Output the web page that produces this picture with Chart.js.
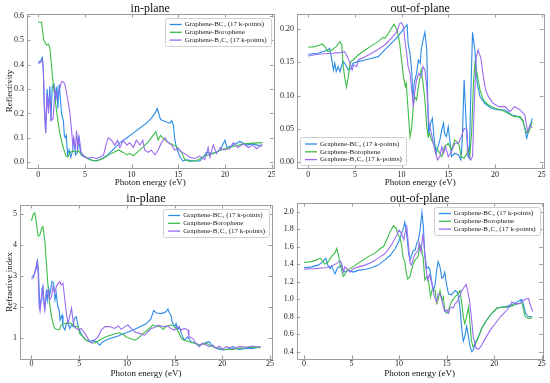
<!DOCTYPE html>
<html>
<head>
<meta charset="utf-8">
<script src="https://cdn.jsdelivr.net/npm/chart.js@4.4.1/dist/chart.umd.min.js"></script>
<style>
  body { margin: 0; background: #fff; }
  #wrap { position: relative; width: 550px; height: 383px; }
  canvas { position: absolute; }
</style>
</head>
<body>
<div id="wrap">
  <canvas id="rIn" width="275" height="190" style="left:0;top:0"></canvas>
  <canvas id="rOut" width="275" height="190" style="left:275px;top:0"></canvas>
  <canvas id="nIn" width="275" height="193" style="left:0;top:190px"></canvas>
  <canvas id="nOut" width="275" height="193" style="left:275px;top:190px"></canvas>
</div>
<script>
var seriesLabels = ["Graphene-BC\u2083 (17 k-points)", "Graphene-Borophene", "Graphene-B\u2084C\u2083 (17 k-points)"];
var seriesColors = ["#2b8be8", "#3dbd48", "#9b6cf0"];
var xTicks = [0, 5, 10, 15, 20, 25];
var rInTicks = [0.0, 0.1, 0.2, 0.3, 0.4, 0.5, 0.6];
var rOutTicks = [0.00, 0.05, 0.10, 0.15, 0.20];
var nInTicks = [1, 2, 3, 4, 5];
var nOutTicks = [0.4, 0.6, 0.8, 1.0, 1.2, 1.4, 1.6, 1.8, 2.0];

// reflectivity, in-plane
var rInBcX = [0,0.25,0.45,0.55,0.65,0.8,0.95,1.1,1.25,1.36,
  1.5,1.7,1.8,2.0,2.1,2.25,2.4,2.5,2.7,2.8,
  2.9,3.0,3.15,3.3,3.5,3.7,3.8,4.0,4.2,4.3,
  4.5,4.6,5.0,5.4,5.9,6.6,7.3,8.0,8.75,9.5,
  10.2,10.9,11.6,12.1,12.5,12.75,12.9,13.1,13.4,13.75,
  14.1,14.3,14.5,14.6,14.8,15.2,15.5,15.9,16.6,17.3,
  17.7,18.0,18.75,19.5,20.0,20.2,20.9,21.6,22.3,23.0,
  23.5,24.0];
var rInBcY = [0.41,0.415,0.43,0.38,0.23,0.12,0.30,0.22,0.31,0.17,
  0.31,0.32,0.25,0.31,0.22,0.32,0.25,0.20,0.17,0.11,
  0.10,0.11,0.03,0.05,0.02,0.05,0.10,0.03,0.04,0.10,
  0.05,0.03,0.02,0.015,0.005,0.01,0.025,0.05,0.08,0.10,
  0.12,0.14,0.16,0.18,0.20,0.22,0.20,0.175,0.17,0.165,
  0.16,0.17,0.15,0.10,0.06,0.02,0.005,0.01,0.005,0.005,
  0.02,0.04,0.035,0.05,0.09,0.06,0.07,0.085,0.07,0.075,
  0.07,0.065];
var rInBoX = [0,0.35,0.6,0.9,1.1,1.25,1.6,2.0,2.3,2.7,
  3.0,3.2,3.4,3.7,4.0,4.3,4.5,5.0,5.5,6.25,
  7.0,7.7,8.6,9.1,9.5,9.8,10.2,10.7,11.25,11.8,
  12.3,12.6,12.85,13.1,13.6,14.1,14.8,15.4,15.7,16.25,
  17.0,17.7,18.75,19.8,20.9,22.0,23.0,24.0];
var rInBoY = [0.575,0.573,0.50,0.48,0.485,0.47,0.32,0.20,0.12,0.057,
  0.023,0.023,0.04,0.045,0.042,0.048,0.037,0.023,0.01,0.005,
  0.016,0.033,0.05,0.04,0.03,0.036,0.026,0.044,0.063,0.084,
  0.11,0.125,0.09,0.11,0.09,0.078,0.064,0.037,0.01,0.003,
  0.007,0.023,0.037,0.053,0.064,0.075,0.078,0.08];
var rInB4X = [0,0.25,0.45,0.55,0.65,0.8,0.95,1.1,1.25,1.4,
  1.6,1.8,2.0,2.1,2.3,2.5,2.7,2.85,3.0,3.2,
  3.4,3.6,3.7,3.8,4.0,4.1,4.25,4.4,4.6,4.8,
  5.2,5.7,6.25,6.6,7.0,7.25,7.5,7.85,8.2,8.5,
  8.75,9.1,9.5,9.8,10.2,10.5,10.9,11.2,11.4,11.8,
  12.1,12.5,12.85,13.2,13.6,13.9,14.3,14.6,15.0,15.4,
  15.7,16.25,16.8,17.3,17.85,18.2,18.4,18.75,19.1,19.5,
  19.8,20.5,20.9,21.4,22.0,22.5,23.0,23.4,24.0];
var rInB4Y = [0.405,0.41,0.42,0.37,0.25,0.12,0.28,0.20,0.28,0.17,
  0.18,0.30,0.26,0.29,0.30,0.33,0.33,0.32,0.29,0.25,
  0.20,0.12,0.07,0.10,0.05,0.13,0.06,0.10,0.04,0.03,
  0.015,0.02,0.015,0.02,0.03,0.07,0.10,0.09,0.07,0.09,
  0.06,0.09,0.07,0.08,0.06,0.09,0.07,0.09,0.05,0.04,
  0.05,0.03,0.05,0.08,0.10,0.08,0.07,0.05,0.055,0.04,
  0.035,0.02,0.015,0.025,0.01,0.06,0.02,0.07,0.035,0.06,
  0.05,0.055,0.08,0.06,0.075,0.06,0.07,0.055,0.075];

// reflectivity, out-of-plane
var rOutBcX = [0,1.07,2.1,2.3,2.5,2.7,2.85,3.0,3.2,3.4,
  3.6,3.75,3.9,4.3,4.6,4.8,5.35,6.1,6.8,7.5,
  8.2,8.9,9.6,10.0,10.4,10.6,10.7,10.9,11.1,11.2,
  11.35,11.6,11.8,12.0,12.1,12.3,12.5,12.7,12.8,12.9,
  13.1,13.3,13.5,13.7,13.9,14.1,14.3,14.5,14.6,14.8,
  15.0,15.2,15.35,15.7,16.1,16.35,16.5,16.7,16.9,17.1,
  17.25,17.4,17.6,17.85,18.1,18.4,18.9,19.6,20.4,21.1,
  21.8,22.5,23.0,23.4,23.75,24.0];
var rOutBcY = [0.162,0.1635,0.1685,0.171,0.156,0.1385,0.1485,0.136,0.1435,0.136,
  0.146,0.151,0.1485,0.1385,0.141,0.1485,0.151,0.1535,0.156,0.1585,
  0.1685,0.1785,0.1885,0.196,0.2035,0.206,0.1785,0.1635,0.1335,0.0935,
  0.1185,0.1335,0.1535,0.1485,0.1685,0.1835,0.195,0.1685,0.0935,0.0435,
  0.0585,0.066,0.0335,0.0135,0.0235,0.0335,0.0485,0.0585,0.0435,0.0385,
  0.0535,0.0285,0.0085,0.0135,0.011,0.0035,0.0335,0.1235,0.0635,0.0085,
  0.006,0.0935,0.195,0.1685,0.1185,0.0985,0.0885,0.081,0.0785,0.0785,
  0.071,0.0685,0.0635,0.036,0.0535,0.066];
var rOutBoX = [0,0.7,1.25,1.5,1.8,2.1,2.5,3.0,3.4,3.6,
  3.75,3.9,4.1,4.3,4.5,4.8,5.35,6.1,6.8,7.5,
  8.0,8.2,8.6,8.9,9.2,9.35,9.6,9.8,10.0,10.2,
  10.4,10.5,10.7,10.9,11.1,11.25,11.4,11.6,11.8,12.0,
  12.1,12.3,12.5,12.7,12.85,13.0,13.2,13.6,13.9,14.3,
  14.6,15.0,15.35,15.7,16.1,16.4,16.7,17.0,17.1,17.3,
  17.5,17.7,17.85,18.0,18.4,18.75,19.3,20.0,20.7,21.4,
  22.1,22.7,23.0,23.4,23.6,24.0];
var rOutBoY = [0.1725,0.1735,0.176,0.1775,0.1735,0.166,0.1685,0.1735,0.181,0.176,
  0.1435,0.1285,0.1125,0.1285,0.15,0.1535,0.161,0.1685,0.175,0.181,
  0.1875,0.186,0.1935,0.201,0.207,0.2035,0.1935,0.1785,0.1535,0.1285,
  0.1135,0.1185,0.0785,0.0385,0.0535,0.0835,0.0985,0.0935,0.1135,0.1285,
  0.1385,0.1185,0.0935,0.0535,0.0385,0.0435,0.0335,0.0235,0.0185,0.0085,
  0.0235,0.0285,0.0185,0.0335,0.0285,0.0085,0.006,0.0135,0.0235,0.0085,
  0.0435,0.1185,0.1485,0.1385,0.1085,0.0935,0.086,0.081,0.0785,0.0735,
  0.0685,0.0685,0.061,0.0435,0.045,0.061];
var rOutB4X = [0,1.07,2.5,3.4,3.9,4.2,4.5,4.7,4.9,5.2,
  5.35,6.1,6.8,7.5,8.2,8.9,9.5,9.8,10.0,10.2,
  10.35,10.5,10.7,10.9,11.1,11.25,11.4,11.6,11.85,12.1,
  12.3,12.5,12.7,12.85,13.0,13.2,13.4,13.65,13.85,14.1,
  14.3,14.5,14.7,15.0,15.35,15.7,16.1,16.4,16.7,17.0,
  17.1,17.4,17.6,17.8,18.0,18.2,18.5,18.75,19.0,19.3,
  19.8,20.4,21.1,21.6,22.1,22.7,23.2,23.5,23.75,24.0];
var rOutB4Y = [0.1595,0.162,0.1635,0.1645,0.166,0.1585,0.1485,0.1385,0.146,0.1435,
  0.1535,0.1585,0.1635,0.1695,0.176,0.186,0.196,0.2085,0.2095,0.2035,
  0.1835,0.1685,0.1435,0.1335,0.1085,0.0835,0.1035,0.1235,0.1335,0.1285,
  0.1435,0.1385,0.1135,0.0685,0.0535,0.0435,0.0285,0.0135,0.0035,0.0085,
  0.0235,0.0135,0.0235,0.0085,0.016,0.0285,0.0285,0.0385,0.051,0.0485,
  0.0135,0.0035,0.0085,0.0935,0.1585,0.1685,0.156,0.1285,0.1085,0.0985,
  0.0885,0.0835,0.0835,0.076,0.0835,0.0785,0.071,0.046,0.056,0.052];

// refractive index, in-plane
var nInBcX = [0,0.17,0.35,0.52,0.63,0.73,0.84,0.9,1.0,1.1,
  1.2,1.3,1.4,1.57,1.67,1.8,1.9,2.0,2.15,2.33,
  2.47,2.6,2.75,2.9,3.0,3.2,3.3,3.5,3.66,3.83,
  4.0,4.2,4.36,4.5,4.7,4.9,5.1,5.4,5.75,6.1,
  6.45,6.8,7.15,7.5,8.0,9.0,10.0,11.0,12.0,12.5,
  12.8,13.1,13.6,14.1,14.3,14.45,14.6,14.8,15.0,15.15,
  15.3,15.5,15.7,16.0,16.4,16.7,17.2,17.6,18.1,18.6,
  19.0,19.7,20.2,20.7,21.1,21.8,22.5,23.2,24.0];
var nInBcY = [2.96,3.0,3.1,3.35,3.5,3.2,2.23,1.96,2.23,2.6,
  2.65,2.23,1.96,2.55,2.23,2.6,2.38,2.55,2.82,2.76,
  2.23,2.44,2.01,1.9,1.57,1.73,1.36,1.25,1.46,1.52,
  1.3,1.41,1.36,1.63,1.68,1.36,1.19,1.03,0.92,0.87,
  0.92,0.87,0.76,0.87,0.95,1.05,1.17,1.3,1.45,1.6,
  1.88,1.8,1.78,1.84,1.93,1.8,1.73,1.46,1.36,1.46,
  1.25,1.36,1.14,0.92,1.03,0.87,0.82,0.76,0.82,0.87,
  0.71,0.62,0.6,0.65,0.71,0.62,0.65,0.65,0.71];
var nInBoX = [0,0.17,0.35,0.52,0.7,0.87,1.05,1.2,1.4,1.57,
  1.74,1.9,2.1,2.26,2.44,2.8,2.96,3.1,3.5,3.83,
  4.2,4.5,4.9,5.05,5.4,5.75,6.1,6.6,7.1,7.8,
  8.7,9.2,9.6,9.9,10.3,10.8,11.2,11.7,12.2,12.7,
  13.1,13.4,13.8,14.1,14.6,15.0,15.3,15.7,16.0,16.5,
  17.1,17.6,18.3,19.0,19.7,20.4,21.1,21.8,22.8,24.0];
var nInBoY = [4.79,4.98,5.05,4.7,4.29,4.32,4.53,4.6,4.16,3.4,
  2.65,2.1,1.7,1.46,1.3,1.25,1.27,1.41,1.46,1.48,
  1.46,1.36,1.36,1.14,1.03,0.92,0.87,0.82,0.92,1.03,
  1.12,1.16,1.11,1.03,0.98,0.92,0.98,1.14,1.25,1.41,
  1.36,1.38,1.27,1.36,1.41,1.36,1.25,0.98,0.92,0.87,
  0.82,0.76,0.82,0.71,0.65,0.62,0.62,0.65,0.69,0.68];
var nInB4X = [0,0.17,0.35,0.52,0.6,0.7,0.8,0.9,1.05,1.2,
  1.3,1.4,1.57,1.74,1.9,2.1,2.26,2.44,2.6,2.8,
  2.96,3.1,3.3,3.5,3.66,3.83,4.0,4.2,4.36,4.5,
  4.7,5.0,5.2,5.6,5.9,6.3,6.6,7.0,7.3,7.7,
  8.2,8.7,9.1,9.4,9.8,10.1,10.45,10.8,11.3,11.85,
  12.2,12.55,12.9,13.25,13.8,14.3,14.6,15.0,15.3,15.7,
  16.0,16.4,16.5,16.9,17.2,17.6,17.9,18.3,18.6,19.0,
  19.35,19.7,20.0,20.4,21.1,21.8,22.5,23.2,24.0];
var nInB4Y = [2.89,2.92,3.1,3.25,3.5,3.1,2.01,1.85,2.33,2.65,
  2.11,1.9,2.44,2.55,2.23,2.33,2.65,2.44,2.65,2.76,
  2.82,2.71,2.76,2.23,1.79,1.46,1.68,1.96,1.52,1.36,
  1.3,1.25,1.3,1.14,0.98,0.82,0.92,1.03,1.25,1.36,
  1.36,1.3,1.38,1.27,1.36,1.41,1.3,1.19,1.14,1.08,
  1.19,1.3,1.33,1.41,1.36,1.38,1.3,1.25,1.36,1.25,
  1.3,1.25,1.03,0.98,0.82,0.71,0.82,0.76,0.71,0.76,
  0.65,0.73,0.62,0.71,0.65,0.71,0.69,0.73,0.69];

// refractive index, out-of-plane
var nOutBcX = [0,0.8,1.5,2.0,2.3,2.5,2.74,2.9,3.1,3.26,
  3.44,3.6,3.8,3.96,4.13,4.3,4.67,5.2,5.7,6.4,
  7.1,7.8,8.5,9.05,9.6,9.96,10.25,10.5,10.6,10.8,
  11.0,11.15,11.3,11.5,11.7,11.85,12.0,12.2,12.4,12.55,
  12.7,12.9,13.1,13.25,13.4,13.6,13.8,13.95,14.1,14.3,
  14.5,14.65,14.8,15.0,15.2,15.5,15.9,16.15,16.4,16.6,
  16.75,16.9,17.1,17.3,17.45,17.65,17.8,18.0,18.35,18.7,
  19.2,19.75,20.3,21.0,21.7,22.4,22.9,23.1,23.3,23.6,
  24.0];
var nOutBcY = [1.36,1.37,1.39,1.43,1.47,1.39,1.35,1.38,1.33,1.29,
  1.34,1.37,1.37,1.39,1.33,1.31,1.33,1.31,1.33,1.34,
  1.36,1.39,1.45,1.50,1.58,1.66,1.75,1.83,1.88,1.75,
  1.52,1.45,1.50,1.56,1.56,1.64,1.66,1.79,1.99,1.83,
  1.52,1.35,1.37,1.33,1.22,1.10,1.18,1.33,1.43,1.37,
  1.24,1.25,1.31,1.16,1.06,1.05,1.10,1.08,0.91,0.65,
  0.52,0.57,0.69,0.57,0.46,0.40,0.42,0.50,0.57,0.67,
  0.76,0.84,0.90,0.91,0.93,0.97,1.00,0.93,0.84,0.80,
  0.80];
var nOutBoX = [0,0.8,1.33,1.7,1.86,2.2,2.56,2.9,3.26,3.44,
  3.6,3.8,3.96,4.13,4.3,4.5,4.9,5.4,6.1,6.8,
  7.5,8.0,8.35,8.7,9.05,9.4,9.7,9.9,10.1,10.25,
  10.4,10.6,10.75,10.9,11.15,11.3,11.5,11.7,12.0,12.2,
  12.4,12.55,12.7,12.9,13.1,13.3,13.5,13.8,13.95,14.1,
  14.3,14.5,14.65,14.8,15.0,15.2,15.5,15.9,16.2,16.4,
  16.6,16.75,16.9,17.1,17.3,17.4,17.6,17.75,18.0,18.35,
  18.7,19.2,19.75,20.3,20.8,21.5,22.0,22.55,22.9,23.25,
  23.6,24.0];
var nOutBoY = [1.42,1.43,1.45,1.47,1.45,1.40,1.43,1.49,1.53,1.58,
  1.52,1.39,1.33,1.26,1.28,1.33,1.35,1.39,1.44,1.49,
  1.53,1.58,1.60,1.68,1.77,1.84,1.81,1.73,1.70,1.62,
  1.49,1.43,1.30,1.23,1.26,1.33,1.41,1.45,1.49,1.62,
  1.56,1.45,1.22,1.26,1.20,1.03,1.12,1.10,0.95,0.99,
  1.10,0.99,1.03,0.88,0.84,0.88,0.97,1.03,1.06,1.10,
  0.95,0.80,0.72,0.80,0.91,0.80,0.53,0.46,0.48,0.57,
  0.67,0.76,0.84,0.90,0.91,0.91,0.93,0.95,0.97,0.80,
  0.78,0.79];
var nOutB4X = [0,1.16,2.2,2.9,3.44,3.8,3.96,4.13,4.3,4.6,
  4.84,5.2,5.7,6.4,7.1,7.8,8.5,9.2,9.65,10.0,
  10.25,10.5,10.6,10.8,11.0,11.15,11.3,11.5,11.7,12.0,
  12.1,12.3,12.5,12.65,12.8,13.0,13.2,13.4,13.7,13.95,
  14.1,14.3,14.5,14.65,14.8,15.0,15.2,15.35,15.5,15.7,
  15.9,16.1,16.35,16.6,16.85,17.05,17.2,17.4,17.6,17.8,
  18.1,18.35,18.6,19.05,19.6,20.1,20.65,21.2,21.5,21.85,
  22.2,22.7,23.25,23.6,23.9,24.07];
var nOutB4Y = [1.345,1.35,1.36,1.38,1.41,1.44,1.41,1.31,1.37,1.34,
  1.31,1.35,1.37,1.39,1.42,1.47,1.52,1.62,1.71,1.79,
  1.75,1.68,1.75,1.83,1.60,1.41,1.39,1.47,1.52,1.56,
  1.64,1.54,1.75,1.58,1.37,1.22,1.28,1.20,1.03,0.97,
  1.06,1.06,0.99,0.91,0.86,0.88,0.84,0.90,0.91,0.90,
  0.95,0.97,1.03,1.10,1.14,1.17,1.10,0.99,0.80,0.57,
  0.44,0.43,0.46,0.55,0.65,0.72,0.80,0.86,0.90,0.97,
  0.95,0.95,1.00,1.01,0.90,0.86];

Chart.defaults.font.family = '"Liberation Serif", "DejaVu Serif", serif';
Chart.defaults.color = '#222';

// frame, inward ticks, title and legend, matplotlib style
var panelDeco = {
  id: 'panelDeco',
  afterDatasetsDraw: function(chart, args, opts) {
    var ctx = chart.ctx, a = chart.chartArea;
    var xs = chart.scales.x, ys = chart.scales.y;
    ctx.save();
    ctx.strokeStyle = '#9c9c9c';
    ctx.lineWidth = 1;
    ctx.beginPath();
    xs.ticks.forEach(function(t) {
      var px = Math.round(xs.getPixelForValue(t.value)) + 0.5;
      ctx.moveTo(px, a.bottom); ctx.lineTo(px, a.bottom - 3.5);
      ctx.moveTo(px, a.top); ctx.lineTo(px, a.top + 3.5);
    });
    ys.ticks.forEach(function(t) {
      var py = Math.round(ys.getPixelForValue(t.value)) + 0.5;
      ctx.moveTo(a.left, py); ctx.lineTo(a.left + 3.5, py);
      ctx.moveTo(a.right, py); ctx.lineTo(a.right - 3.5, py);
    });
    ctx.stroke();
    ctx.strokeRect(Math.round(a.left) + 0.5, Math.round(a.top) + 0.5,
      Math.round(a.right - a.left), Math.round(a.bottom - a.top));

    ctx.fillStyle = '#111';
    ctx.font = '12px "Liberation Serif", serif';
    ctx.textAlign = 'center';
    ctx.textBaseline = 'alphabetic';
    ctx.fillText(opts.title, (a.left + a.right) / 2, 12);

    var ds = chart.data.datasets;
    ctx.font = '7px "Liberation Serif", serif';
    var tw = Math.max.apply(null, ds.map(function(d) { return ctx.measureText(d.label).width; }));
    var w = tw + 24, h = 28;
    var bx = opts.legend === 'ur' ? a.right - 3 - w : a.left + 3;
    var by = opts.legend === 'ur' ? a.top + 3.5 : a.bottom - 3 - h;
    ctx.fillStyle = 'rgba(255,255,255,0.85)';
    ctx.strokeStyle = '#cfcfcf';
    ctx.beginPath();
    ctx.roundRect(Math.round(bx) + 0.5, Math.round(by) + 0.5, Math.round(w), h, 2);
    ctx.fill();
    ctx.stroke();
    ctx.textAlign = 'left';
    ctx.textBaseline = 'middle';
    ds.forEach(function(d, i) {
      var y = by + 7 + i * 7.8;
      ctx.strokeStyle = d.borderColor;
      ctx.lineWidth = 1.3;
      ctx.beginPath();
      ctx.moveTo(bx + 5, y); ctx.lineTo(bx + 17, y);
      ctx.stroke();
      ctx.fillStyle = '#222';
      ctx.fillText(d.label, bx + 20, y);
    });
    ctx.restore();
  }
};

function makePanel(id, p) {
  var canvas = document.getElementById(id);
  var W = canvas.width, H = canvas.height, a = p.area;
  var datasets = p.series.map(function(s, i) {
    return {
      label: seriesLabels[i],
      data: s[0].map(function(x, k) { return { x: x, y: s[1][k] }; }),
      borderColor: seriesColors[i],
      borderWidth: 1.1,
      pointRadius: 0,
      tension: 0,
      fill: false,
      order: 3 - i
    };
  });
  return new Chart(canvas, {
    type: 'line',
    data: { datasets: datasets },
    options: {
      responsive: false,
      animation: false,
      layout: { padding: { left: 0, top: a.t, right: W - a.r, bottom: 0 } },
      plugins: {
        legend: { display: false },
        tooltip: { enabled: false },
        panelDeco: { title: p.title, legend: p.legend }
      },
      scales: {
        x: {
          type: 'linear',
          min: p.xRange[0],
          max: p.xRange[1],
          grid: { display: false, drawTicks: false },
          border: { display: false },
          ticks: { padding: p.xTickPad, autoSkip: false, maxRotation: 0, font: { size: 8 }, color: '#222' },
          afterBuildTicks: function(s) { s.ticks = xTicks.map(function(v) { return { value: v }; }); },
          afterFit: function(s) { s.height = H - a.b; s.paddingLeft = 0; s.paddingRight = 0; },
          title: { display: true, text: 'Photon energy (eV)', font: { size: 9 }, color: '#111',
                   padding: { top: 0, bottom: p.xTitlePad } }
        },
        y: {
          min: p.yRange[0],
          max: p.yRange[1],
          grid: { display: false, drawTicks: false },
          border: { display: false },
          ticks: {
            padding: 3, autoSkip: false, font: { size: 8 }, color: '#222',
            callback: function(v) { return v.toFixed(p.dec); }
          },
          afterBuildTicks: function(s) { s.ticks = p.yTicks.map(function(v) { return { value: v }; }); },
          afterFit: function(s) { s.width = a.l; s.paddingTop = 0; s.paddingBottom = 0; },
          title: { display: !!p.yTitle, text: p.yTitle || '', font: { size: 9 }, color: '#111',
                   padding: { top: 4.6, bottom: 0 } }
        }
      }
    },
    plugins: [panelDeco]
  });
}

makePanel('rIn', {
  title: 'in-plane', legend: 'ur', yTitle: 'Reflectivity', dec: 1,
  area: { l: 27, r: 273.5, t: 14, b: 168 }, xRange: [-1.2, 25.2], yRange: [-0.024, 0.608],
  yTicks: rInTicks, xTitlePad: 1.9, xTickPad: 2,
  series: [[rInBcX, rInBcY], [rInBoX, rInBoY], [rInB4X, rInB4Y]]
});
makePanel('rOut', {
  title: 'out-of-plane', legend: 'll', yTitle: '', dec: 2,
  area: { l: 22, r: 268.5, t: 14, b: 168 }, xRange: [-1.2, 25.2], yRange: [-0.0086, 0.2225],
  yTicks: rOutTicks, xTitlePad: 1.9, xTickPad: 2,
  series: [[rOutBcX, rOutBcY], [rOutBoX, rOutBoY], [rOutB4X, rOutB4Y]]
});
makePanel('nIn', {
  title: 'in-plane', legend: 'ur', yTitle: 'Refractive index', dec: 0,
  area: { l: 20, r: 272, t: 15, b: 169 }, xRange: [-1.2, 25.2], yRange: [0.31, 5.3],
  yTicks: nInTicks, xTitlePad: 4.4, xTickPad: 0,
  series: [[nInBcX, nInBcY], [nInBoX, nInBoY], [nInB4X, nInB4Y]]
});
makePanel('nOut', {
  title: 'out-of-plane', legend: 'ur', yTitle: '', dec: 1,
  area: { l: 21.7, r: 267.7, t: 13, b: 169 }, xRange: [-0.77, 25.1], yRange: [0.317, 2.1],
  yTicks: nOutTicks, xTitlePad: 4.4, xTickPad: 0,
  series: [[nOutBcX, nOutBcY], [nOutBoX, nOutBoY], [nOutB4X, nOutB4Y]]
});
</script>
</body>
</html>
